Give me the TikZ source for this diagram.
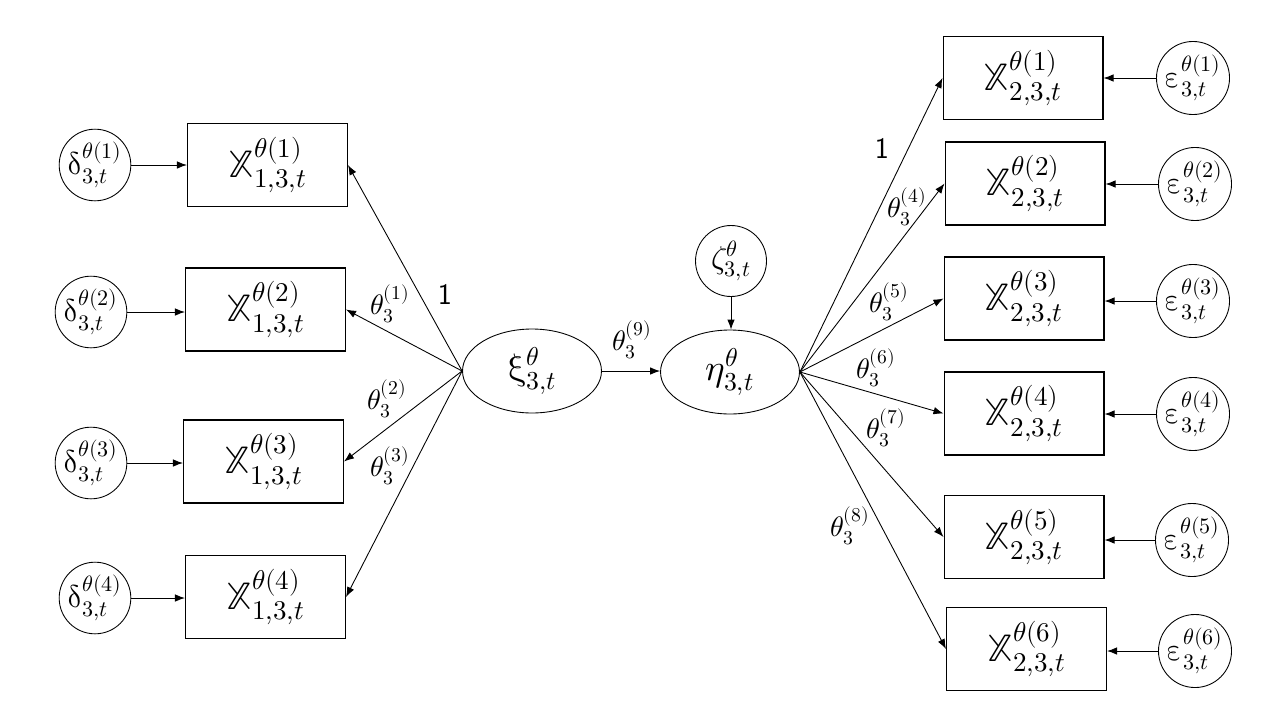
\documentclass[tikz,border=0pt]{standalone}
\usepackage{unicode-math}
\setmathfont{Latin Modern Math}
\usetikzlibrary{shapes.geometric,arrows.meta}
\begin{document}
\begin{tikzpicture}[x=0.02cm,y=-0.02cm,
  obs/.style={draw, line width=0.6pt, minimum width=3.2cm, minimum height=1.66cm, inner sep=0pt, font=\fontsize{22}{26}\selectfont},
  err/.style={draw, circle, line width=0.5pt, minimum size=1.42cm, inner sep=0pt, font=\fontsize{18}{21}\selectfont},
  lat/.style={draw, ellipse, line width=0.5pt, minimum width=2.78cm, minimum height=1.68cm, inner sep=0pt, font=\fontsize{21}{24}\selectfont},
  arr/.style={-{Latex[length=2mm,width=1.5mm]}, line width=0.5pt},
  lab/.style={font=\fontsize{16}{19}\selectfont, inner sep=0pt},
  one/.style={font=\sffamily\fontsize{17}{20}\selectfont, inner sep=0pt}
]
\useasboundingbox (0,0) rectangle (1280,720);

% left measured variables
\node[obs] (x1) at (267.5,165) {$\mathbb{X}_{1,3,t}^{\theta(1)}$};
\node[obs] (x2) at (265.5,309.5) {$\mathbb{X}_{1,3,t}^{\theta(2)}$};
\node[obs] (x3) at (263.5,461.5) {$\mathbb{X}_{1,3,t}^{\theta(3)}$};
\node[obs] (x4) at (265.5,597) {$\mathbb{X}_{1,3,t}^{\theta(4)}$};

% left errors
\node[err] (d1) at (95,165) {$\symup{\delta}_{3,t}^{\theta(1)}$};
\node[err] (d2) at (91,312) {$\symup{\delta}_{3,t}^{\theta(2)}$};
\node[err] (d3) at (91,463) {$\symup{\delta}_{3,t}^{\theta(3)}$};
\node[err] (d4) at (95,598) {$\symup{\delta}_{3,t}^{\theta(4)}$};

% latent variables
\node[lat] (xi) at (532,371) {$\symup{\xi}_{3,t}^{\theta}$};
\node[lat] (eta) at (730,372) {$\eta_{3,t}^{\theta}$};
\node[err] (zeta) at (731,261) {$\zeta_{3,t}^{\theta}$};

% right measured variables
\node[obs] (r1) at (1023,78) {$\mathbb{X}_{2,3,t}^{\theta(1)}$};
\node[obs] (r2) at (1025,183.5) {$\mathbb{X}_{2,3,t}^{\theta(2)}$};
\node[obs] (r3) at (1024,298.5) {$\mathbb{X}_{2,3,t}^{\theta(3)}$};
\node[obs] (r4) at (1024,413.5) {$\mathbb{X}_{2,3,t}^{\theta(4)}$};
\node[obs] (r5) at (1024,537) {$\mathbb{X}_{2,3,t}^{\theta(5)}$};
\node[obs] (r6) at (1026.5,649) {$\mathbb{X}_{2,3,t}^{\theta(6)}$};

% right errors
\node[err] (e1) at (1193,78) {$\symup{\varepsilon}_{3,t}^{\theta(1)}$};
\node[err] (e2) at (1195,184) {$\symup{\varepsilon}_{3,t}^{\theta(2)}$};
\node[err] (e3) at (1193,301) {$\symup{\varepsilon}_{3,t}^{\theta(3)}$};
\node[err] (e4) at (1193,414) {$\symup{\varepsilon}_{3,t}^{\theta(4)}$};
\node[err] (e5) at (1192,540) {$\symup{\varepsilon}_{3,t}^{\theta(5)}$};
\node[err] (e6) at (1195,651) {$\symup{\varepsilon}_{3,t}^{\theta(6)}$};

% error arrows
\foreach \d/\x in {d1/x1,d2/x2,d3/x3,d4/x4}
  \draw[arr] (\d.east) -- (\d.east -| \x.west);
\foreach \e/\r in {e1/r1,e2/r2,e3/r3,e4/r4,e5/r5,e6/r6}
  \draw[arr] (\e.west) -- (\e.west -| \r.east);

% loadings
\foreach \x in {x1,x2,x3,x4}
  \draw[arr] (xi.west) -- (\x.east);
\foreach \r in {r1,r2,r3,r4,r5,r6}
  \draw[arr] (eta.east) -- (\r.west);
\draw[arr] (xi.east) -- (xi.east -| eta.west);
\draw[arr] (zeta.south) -- (zeta.south |- eta.north);

% labels
\node[one] (l1a) at (445,294) {1};
\node[lab] (la1) at (390,304) {$\theta_3^{(1)}$};
\node[lab] (la2) at (387,399) {$\theta_3^{(2)}$};
\node[lab] (la3) at (390,466) {$\theta_3^{(3)}$};
\node[lab] (la9) at (632,340) {$\theta_3^{(9)}$};
\node[one] (l1b) at (882,148) {1};
\node[lab] (la4) at (907,207) {$\theta_3^{(4)}$};
\node[lab] (la5) at (889,302) {$\theta_3^{(5)}$};
\node[lab] (la6) at (876,368) {$\theta_3^{(6)}$};
\node[lab] (la7) at (886,428) {$\theta_3^{(7)}$};
\node[lab] (la8) at (850,526) {$\theta_3^{(8)}$};
\end{tikzpicture}
\end{document}
